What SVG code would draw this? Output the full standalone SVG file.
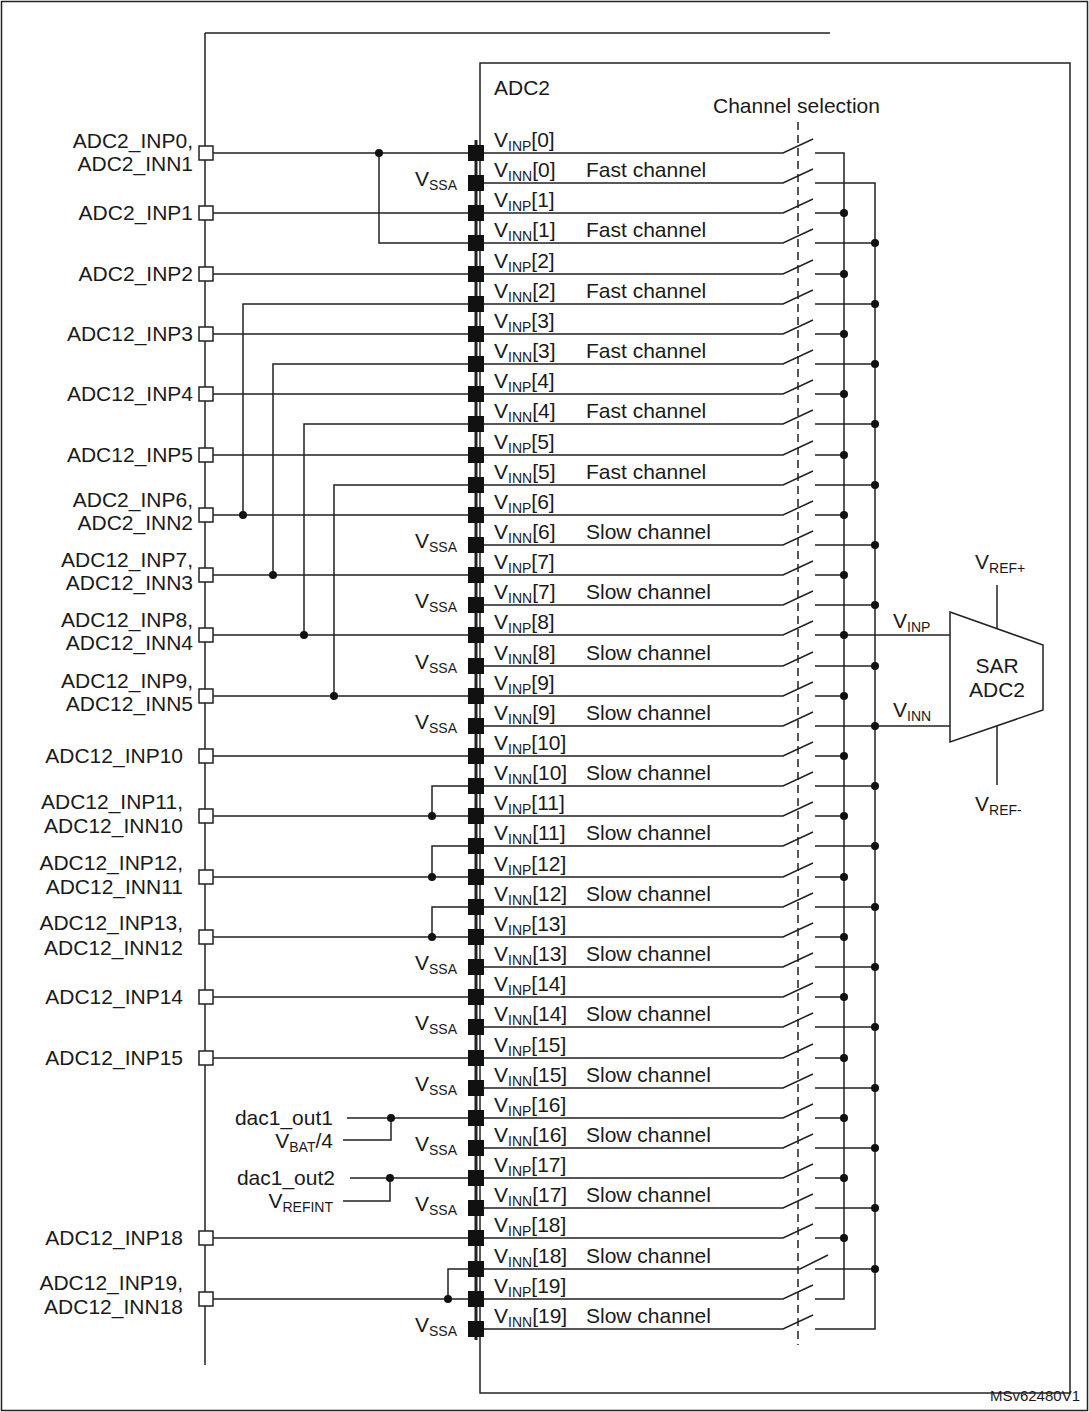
<svg xmlns="http://www.w3.org/2000/svg" width="1089" height="1412" viewBox="0 0 1089 1412">
<style>
text{font-family:"Liberation Sans",Arial,sans-serif;font-size:21px;fill:#1a1a1a}
.s{font-size:14px}
.r{text-anchor:end}
.w{fill:none;stroke:#222;stroke-width:1.5}
.d{fill:#111}
.p{fill:#111}
.o{fill:#fff;stroke:#222;stroke-width:1.5}
</style>
<rect x="1.5" y="1.5" width="1086" height="1409" fill="#fff" stroke="#222" stroke-width="1.5"/>
<g id="chip-outline" class="w">
<path d="M205 33H830M205 33V1365"/>
<rect x="480" y="63" width="590" height="1330"/>
<path d="M476 140V1340" stroke-width="3"/>
<path d="M798 122V1345" stroke-dasharray="8,5"/>
</g>
<text x="494" y="95">ADC2</text>
<text x="713" y="113">Channel selection</text>
<g id="connectors" class="w">
<path d="M484 153H783L813 139M815 153H844V1299H815"/>
<path d="M484 183H783L813 169M815 183H875V1329H815"/>
<path d="M484 213H783L813 199M815 213H844M484 243H783L813 229M815 243H875M484 274H783L813 260M815 274H844M484 304H783L813 290M815 304H875M484 334H783L813 320M815 334H844M484 364H783L813 350M815 364H875M484 394H783L813 380M815 394H844M484 424H783L813 410M815 424H875M484 455H783L813 441M815 455H844M484 485H783L813 471M815 485H875M484 515H783L813 501M815 515H844M484 545H783L813 531M815 545H875M484 575H783L813 561M815 575H844M484 605H783L813 591M815 605H875M484 635H783L813 621M815 635H844M484 666H783L813 652M815 666H875M484 696H783L813 682M815 696H844M484 726H783L813 712M815 726H875M484 756H783L813 742M815 756H844M484 786H783L813 772M815 786H875M484 816H783L813 802M815 816H844M484 846H783L813 832M815 846H875M484 877H783L813 863M815 877H844M484 907H783L813 893M815 907H875M484 937H783L813 923M815 937H844M484 967H783L813 953M815 967H875M484 997H783L813 983M815 997H844M484 1027H783L813 1013M815 1027H875M484 1058H783L813 1044M815 1058H844M484 1088H783L813 1074M815 1088H875M484 1118H783L813 1104M815 1118H844M484 1148H783L813 1134M815 1148H875M484 1178H783L813 1164M815 1178H844M484 1208H783L813 1194M815 1208H875M484 1238H783L813 1224M815 1238H844M484 1269H800L828 1255M815 1269H875M484 1299H783L813 1285M484 1329H783L813 1315"/>
<path d="M844 635H950M875 726H950M997 585V636M997 718V785"/>
<path d="M213 153H468M379 153V243H468M213 213H468M213 274H468M213 334H468M213 394H468M213 455H468M213 515H468M243 515V304H468M213 575H468M273 575V364H468M213 635H468M304 635V424H468M213 696H468M334 696V485H468M213 756H468M213 816H468M432 816V786H468M213 877H468M432 877V846H468M213 937H468M432 937V907H468M213 997H468M213 1058H468M347 1118H468M343 1140H391V1118M350 1178H468M343 1201H390V1178M213 1238H468M213 1299H468M448 1299V1269H468"/>
</g>
<g id="dots" class="d">
<circle cx="379" cy="153" r="4"/><circle cx="243" cy="515" r="4"/><circle cx="273" cy="575" r="4"/><circle cx="304" cy="635" r="4"/><circle cx="334" cy="696" r="4"/><circle cx="432" cy="816" r="4"/><circle cx="432" cy="877" r="4"/><circle cx="432" cy="937" r="4"/><circle cx="391" cy="1118" r="4"/><circle cx="390" cy="1178" r="4"/><circle cx="448" cy="1299" r="4"/>
<circle cx="844" cy="213" r="4"/><circle cx="844" cy="274" r="4"/><circle cx="844" cy="334" r="4"/><circle cx="844" cy="394" r="4"/><circle cx="844" cy="455" r="4"/><circle cx="844" cy="515" r="4"/><circle cx="844" cy="575" r="4"/><circle cx="844" cy="635" r="4"/><circle cx="844" cy="696" r="4"/><circle cx="844" cy="756" r="4"/><circle cx="844" cy="816" r="4"/><circle cx="844" cy="877" r="4"/><circle cx="844" cy="937" r="4"/><circle cx="844" cy="997" r="4"/><circle cx="844" cy="1058" r="4"/><circle cx="844" cy="1118" r="4"/><circle cx="844" cy="1178" r="4"/><circle cx="844" cy="1238" r="4"/>
<circle cx="875" cy="243" r="4"/><circle cx="875" cy="304" r="4"/><circle cx="875" cy="364" r="4"/><circle cx="875" cy="424" r="4"/><circle cx="875" cy="485" r="4"/><circle cx="875" cy="545" r="4"/><circle cx="875" cy="605" r="4"/><circle cx="875" cy="666" r="4"/><circle cx="875" cy="726" r="4"/><circle cx="875" cy="786" r="4"/><circle cx="875" cy="846" r="4"/><circle cx="875" cy="907" r="4"/><circle cx="875" cy="967" r="4"/><circle cx="875" cy="1027" r="4"/><circle cx="875" cy="1088" r="4"/><circle cx="875" cy="1148" r="4"/><circle cx="875" cy="1208" r="4"/><circle cx="875" cy="1269" r="4"/>
</g>
<g id="pins" class="p">
<rect x="468" y="145" width="16" height="16"/><rect x="468" y="175" width="16" height="16"/><rect x="468" y="205" width="16" height="16"/><rect x="468" y="235" width="16" height="16"/><rect x="468" y="266" width="16" height="16"/><rect x="468" y="296" width="16" height="16"/><rect x="468" y="326" width="16" height="16"/><rect x="468" y="356" width="16" height="16"/><rect x="468" y="386" width="16" height="16"/><rect x="468" y="416" width="16" height="16"/><rect x="468" y="447" width="16" height="16"/><rect x="468" y="477" width="16" height="16"/><rect x="468" y="507" width="16" height="16"/><rect x="468" y="537" width="16" height="16"/><rect x="468" y="567" width="16" height="16"/><rect x="468" y="597" width="16" height="16"/><rect x="468" y="627" width="16" height="16"/><rect x="468" y="658" width="16" height="16"/><rect x="468" y="688" width="16" height="16"/><rect x="468" y="718" width="16" height="16"/><rect x="468" y="748" width="16" height="16"/><rect x="468" y="778" width="16" height="16"/><rect x="468" y="808" width="16" height="16"/><rect x="468" y="838" width="16" height="16"/><rect x="468" y="869" width="16" height="16"/><rect x="468" y="899" width="16" height="16"/><rect x="468" y="929" width="16" height="16"/><rect x="468" y="959" width="16" height="16"/><rect x="468" y="989" width="16" height="16"/><rect x="468" y="1019" width="16" height="16"/><rect x="468" y="1050" width="16" height="16"/><rect x="468" y="1080" width="16" height="16"/><rect x="468" y="1110" width="16" height="16"/><rect x="468" y="1140" width="16" height="16"/><rect x="468" y="1170" width="16" height="16"/><rect x="468" y="1200" width="16" height="16"/><rect x="468" y="1230" width="16" height="16"/><rect x="468" y="1261" width="16" height="16"/><rect x="468" y="1291" width="16" height="16"/><rect x="468" y="1321" width="16" height="16"/>
</g>
<g id="ext-pins" class="o">
<rect x="199" y="146" width="14" height="14"/><rect x="199" y="206" width="14" height="14"/><rect x="199" y="267" width="14" height="14"/><rect x="199" y="327" width="14" height="14"/><rect x="199" y="387" width="14" height="14"/><rect x="199" y="448" width="14" height="14"/><rect x="199" y="508" width="14" height="14"/><rect x="199" y="568" width="14" height="14"/><rect x="199" y="628" width="14" height="14"/><rect x="199" y="689" width="14" height="14"/><rect x="199" y="749" width="14" height="14"/><rect x="199" y="809" width="14" height="14"/><rect x="199" y="870" width="14" height="14"/><rect x="199" y="930" width="14" height="14"/><rect x="199" y="990" width="14" height="14"/><rect x="199" y="1051" width="14" height="14"/><rect x="199" y="1231" width="14" height="14"/><rect x="199" y="1292" width="14" height="14"/>
</g>
<g id="left-labels">
<text class="r" x="193" y="148">ADC2_INP0,</text><text class="r" x="193" y="171">ADC2_INN1</text>
<text class="r" x="193" y="220">ADC2_INP1</text>
<text class="r" x="193" y="281">ADC2_INP2</text>
<text class="r" x="193" y="341">ADC12_INP3</text>
<text class="r" x="193" y="401">ADC12_INP4</text>
<text class="r" x="193" y="462">ADC12_INP5</text>
<text class="r" x="193" y="507">ADC2_INP6,</text><text class="r" x="193" y="530">ADC2_INN2</text>
<text class="r" x="193" y="567">ADC12_INP7,</text><text class="r" x="193" y="590">ADC12_INN3</text>
<text class="r" x="193" y="627">ADC12_INP8,</text><text class="r" x="193" y="650">ADC12_INN4</text>
<text class="r" x="193" y="688">ADC12_INP9,</text><text class="r" x="193" y="711">ADC12_INN5</text>
<text class="r" x="183" y="763">ADC12_INP10</text>
<text class="r" x="183" y="809">ADC12_INP11,</text><text class="r" x="183" y="833">ADC12_INN10</text>
<text class="r" x="183" y="870">ADC12_INP12,</text><text class="r" x="183" y="894">ADC12_INN11</text>
<text class="r" x="183" y="930">ADC12_INP13,</text><text class="r" x="183" y="955">ADC12_INN12</text>
<text class="r" x="183" y="1004">ADC12_INP14</text>
<text class="r" x="183" y="1065">ADC12_INP15</text>
<text class="r" x="333" y="1125">dac1_out1</text>
<text class="r" x="333" y="1148">V<tspan class="s" dy="4">BAT</tspan><tspan dy="-4">/4</tspan></text>
<text class="r" x="335" y="1185">dac1_out2</text>
<text class="r" x="333" y="1208">V<tspan class="s" dy="4">REFINT</tspan></text>
<text class="r" x="183" y="1245">ADC12_INP18</text>
<text class="r" x="183" y="1290">ADC12_INP19,</text><text class="r" x="183" y="1314">ADC12_INN18</text>
</g>
<g id="vssa">
<text x="415" y="186">V<tspan class="s" dy="4">SSA</tspan></text>
<text x="415" y="548">V<tspan class="s" dy="4">SSA</tspan></text>
<text x="415" y="608">V<tspan class="s" dy="4">SSA</tspan></text>
<text x="415" y="669">V<tspan class="s" dy="4">SSA</tspan></text>
<text x="415" y="729">V<tspan class="s" dy="4">SSA</tspan></text>
<text x="415" y="970">V<tspan class="s" dy="4">SSA</tspan></text>
<text x="415" y="1030">V<tspan class="s" dy="4">SSA</tspan></text>
<text x="415" y="1091">V<tspan class="s" dy="4">SSA</tspan></text>
<text x="415" y="1151">V<tspan class="s" dy="4">SSA</tspan></text>
<text x="415" y="1211">V<tspan class="s" dy="4">SSA</tspan></text>
<text x="415" y="1332">V<tspan class="s" dy="4">SSA</tspan></text>
</g>
<g id="row-labels">
<text x="494" y="147">V<tspan class="s" dy="4">INP</tspan><tspan dy="-4">[0]</tspan></text>
<text x="494" y="177">V<tspan class="s" dy="4">INN</tspan><tspan dy="-4">[0]</tspan><tspan x="586">Fast channel</tspan></text>
<text x="494" y="207">V<tspan class="s" dy="4">INP</tspan><tspan dy="-4">[1]</tspan></text>
<text x="494" y="237">V<tspan class="s" dy="4">INN</tspan><tspan dy="-4">[1]</tspan><tspan x="586">Fast channel</tspan></text>
<text x="494" y="268">V<tspan class="s" dy="4">INP</tspan><tspan dy="-4">[2]</tspan></text>
<text x="494" y="298">V<tspan class="s" dy="4">INN</tspan><tspan dy="-4">[2]</tspan><tspan x="586">Fast channel</tspan></text>
<text x="494" y="328">V<tspan class="s" dy="4">INP</tspan><tspan dy="-4">[3]</tspan></text>
<text x="494" y="358">V<tspan class="s" dy="4">INN</tspan><tspan dy="-4">[3]</tspan><tspan x="586">Fast channel</tspan></text>
<text x="494" y="388">V<tspan class="s" dy="4">INP</tspan><tspan dy="-4">[4]</tspan></text>
<text x="494" y="418">V<tspan class="s" dy="4">INN</tspan><tspan dy="-4">[4]</tspan><tspan x="586">Fast channel</tspan></text>
<text x="494" y="449">V<tspan class="s" dy="4">INP</tspan><tspan dy="-4">[5]</tspan></text>
<text x="494" y="479">V<tspan class="s" dy="4">INN</tspan><tspan dy="-4">[5]</tspan><tspan x="586">Fast channel</tspan></text>
<text x="494" y="509">V<tspan class="s" dy="4">INP</tspan><tspan dy="-4">[6]</tspan></text>
<text x="494" y="539">V<tspan class="s" dy="4">INN</tspan><tspan dy="-4">[6]</tspan><tspan x="586">Slow channel</tspan></text>
<text x="494" y="569">V<tspan class="s" dy="4">INP</tspan><tspan dy="-4">[7]</tspan></text>
<text x="494" y="599">V<tspan class="s" dy="4">INN</tspan><tspan dy="-4">[7]</tspan><tspan x="586">Slow channel</tspan></text>
<text x="494" y="629">V<tspan class="s" dy="4">INP</tspan><tspan dy="-4">[8]</tspan></text>
<text x="494" y="660">V<tspan class="s" dy="4">INN</tspan><tspan dy="-4">[8]</tspan><tspan x="586">Slow channel</tspan></text>
<text x="494" y="690">V<tspan class="s" dy="4">INP</tspan><tspan dy="-4">[9]</tspan></text>
<text x="494" y="720">V<tspan class="s" dy="4">INN</tspan><tspan dy="-4">[9]</tspan><tspan x="586">Slow channel</tspan></text>
<text x="494" y="750">V<tspan class="s" dy="4">INP</tspan><tspan dy="-4">[10]</tspan></text>
<text x="494" y="780">V<tspan class="s" dy="4">INN</tspan><tspan dy="-4">[10]</tspan><tspan x="586">Slow channel</tspan></text>
<text x="494" y="810">V<tspan class="s" dy="4">INP</tspan><tspan dy="-4">[11]</tspan></text>
<text x="494" y="840">V<tspan class="s" dy="4">INN</tspan><tspan dy="-4">[11]</tspan><tspan x="586">Slow channel</tspan></text>
<text x="494" y="871">V<tspan class="s" dy="4">INP</tspan><tspan dy="-4">[12]</tspan></text>
<text x="494" y="901">V<tspan class="s" dy="4">INN</tspan><tspan dy="-4">[12]</tspan><tspan x="586">Slow channel</tspan></text>
<text x="494" y="931">V<tspan class="s" dy="4">INP</tspan><tspan dy="-4">[13]</tspan></text>
<text x="494" y="961">V<tspan class="s" dy="4">INN</tspan><tspan dy="-4">[13]</tspan><tspan x="586">Slow channel</tspan></text>
<text x="494" y="991">V<tspan class="s" dy="4">INP</tspan><tspan dy="-4">[14]</tspan></text>
<text x="494" y="1021">V<tspan class="s" dy="4">INN</tspan><tspan dy="-4">[14]</tspan><tspan x="586">Slow channel</tspan></text>
<text x="494" y="1052">V<tspan class="s" dy="4">INP</tspan><tspan dy="-4">[15]</tspan></text>
<text x="494" y="1082">V<tspan class="s" dy="4">INN</tspan><tspan dy="-4">[15]</tspan><tspan x="586">Slow channel</tspan></text>
<text x="494" y="1112">V<tspan class="s" dy="4">INP</tspan><tspan dy="-4">[16]</tspan></text>
<text x="494" y="1142">V<tspan class="s" dy="4">INN</tspan><tspan dy="-4">[16]</tspan><tspan x="586">Slow channel</tspan></text>
<text x="494" y="1172">V<tspan class="s" dy="4">INP</tspan><tspan dy="-4">[17]</tspan></text>
<text x="494" y="1202">V<tspan class="s" dy="4">INN</tspan><tspan dy="-4">[17]</tspan><tspan x="586">Slow channel</tspan></text>
<text x="494" y="1232">V<tspan class="s" dy="4">INP</tspan><tspan dy="-4">[18]</tspan></text>
<text x="494" y="1263">V<tspan class="s" dy="4">INN</tspan><tspan dy="-4">[18]</tspan><tspan x="586">Slow channel</tspan></text>
<text x="494" y="1293">V<tspan class="s" dy="4">INP</tspan><tspan dy="-4">[19]</tspan></text>
<text x="494" y="1323">V<tspan class="s" dy="4">INN</tspan><tspan dy="-4">[19]</tspan><tspan x="586">Slow channel</tspan></text>
</g>
<g id="sar-adc2">
<path d="M950 612L1043 645V710L950 742Z" fill="#fff" stroke="#222" stroke-width="1.5"/>
<text x="997" y="673" text-anchor="middle">SAR</text>
<text x="997" y="697" text-anchor="middle">ADC2</text>
<text x="975" y="569">V<tspan class="s" dy="4">REF+</tspan></text>
<text x="975" y="811">V<tspan class="s" dy="4">REF-</tspan></text>
<text x="893" y="628">V<tspan class="s" dy="4">INP</tspan></text>
<text x="893" y="717">V<tspan class="s" dy="4">INN</tspan></text>
</g>
<text x="1080" y="1401" text-anchor="end" style="font-size:15px">MSv62480V1</text>
</svg>
